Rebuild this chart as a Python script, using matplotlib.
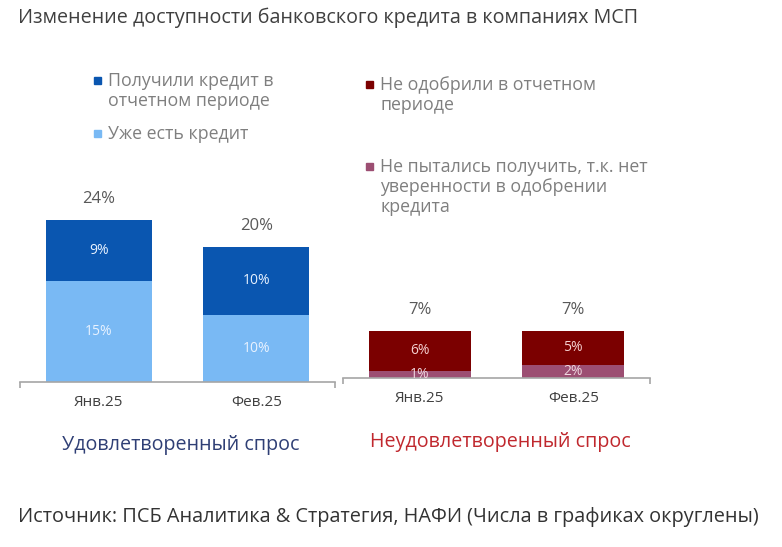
import matplotlib
matplotlib.use("Agg")
import matplotlib.pyplot as plt

plt.rcParams['font.family'] = ['Open Sans', 'DejaVu Sans']

# данные
months = ['Янв.25', 'Фев.25']
got_credit = [9, 10]        # Получили кредит в отчетном периоде
has_credit = [15, 10]       # Уже есть кредит
sat_total = [24, 20]
rejected = [6, 5]           # Не одобрили в отчетном периоде
not_tried = [1, 2]          # Не пытались получить
unsat_total = [7, 7]

c_dark_blue = '#0a56b0'
c_light_blue = '#79b9f4'
c_dark_red = '#7b0000'
c_mauve = '#9c4e72'
grey_txt = '#595959'

W, H = 782, 547
fig = plt.figure(figsize=(W / 100, H / 100), dpi=100)

def px_axes(x0, x1, y_base, ytop_val, scale):
    # оси в пикселях
    h = ytop_val * scale
    return fig.add_axes([x0 / W, 1 - y_base / H, (x1 - x0) / W, h / H])

def style(ax):
    for s in ['top', 'right', 'left']:
        ax.spines[s].set_visible(False)
    ax.spines['bottom'].set_color('#a6a6a6')
    ax.spines['bottom'].set_linewidth(1.2)
    ax.set_yticks([])
    ax.set_xlim(-0.5, 1.5)
    ax.set_ylim(0, 30)
    ax.set_xticks(range(len(months)))
    ax.set_xticklabels(months, fontsize=11, color='#404040')
    ax.tick_params(axis='x', which='major', length=0, pad=9)
    ax.set_xticks([-0.5, 1.5], minor=True)
    ax.tick_params(axis='x', which='minor', length=4, color='#a6a6a6', width=1.2)
    ax.patch.set_alpha(0)

x = list(range(len(months)))

# Удовлетворенный спрос
ax1 = px_axes(20, 335, 382, 30, 6.75)
style(ax1)
b1 = ax1.bar(x, has_credit, width=0.673, color=c_light_blue)
b2 = ax1.bar(x, got_credit, bottom=has_credit, width=0.673, color=c_dark_blue)
ax1.bar_label(b1, labels=[f'{v}%' for v in has_credit], label_type='center',
              color='#e8f2ff', fontsize=10)
ax1.bar_label(b2, labels=[f'{v}%' for v in got_credit], label_type='center',
              color='#e8f2ff', fontsize=10)
for i, t in enumerate(sat_total):
    ax1.annotate(f'{t}%', (i, t), xytext=(0, 15), textcoords='offset points',
                 ha='center', va='center', fontsize=12, color=grey_txt)

# Неудовлетворенный спрос
ax2 = px_axes(343, 650, 378, 30, 6.75)
style(ax2)
b3 = ax2.bar(x, not_tried, width=0.667, color=c_mauve)
b4 = ax2.bar(x, rejected, bottom=not_tried, width=0.667, color=c_dark_red)
ax2.bar_label(b3, labels=[f'{v}%' for v in not_tried], label_type='center',
              color='#f0d8e0', fontsize=10)
ax2.bar_label(b4, labels=[f'{v}%' for v in rejected], label_type='center',
              color='#f5d0d0', fontsize=10)
for i, t in enumerate(unsat_total):
    ax2.annotate(f'{t}%', (i, t), xytext=(0, 15), textcoords='offset points',
                 ha='center', va='center', fontsize=12, color=grey_txt)

# легенды
def legend_item(xp, yp, color, text):
    # yp - центр первой строки
    fig.patches.append(plt.Rectangle((xp / W, 1 - (yp + 3.5) / H), 7 / W, 7 / H,
                                     transform=fig.transFigure, color=color))
    fig.text((xp + 14) / W, 1 - (yp - 8) / H, text, ha='left', va='top',
             fontsize=12.8, color='#7f7f7f', linespacing=1.16)

legend_item(94, 80, c_dark_blue, 'Получили кредит в\nотчетном периоде')
legend_item(94, 133, c_light_blue, 'Уже есть кредит')
legend_item(366, 84, c_dark_red, 'Не одобрили в отчетном\nпериоде')
legend_item(366, 166, c_mauve, 'Не пытались получить, т.к. нет\nуверенности в одобрении\nкредита')

fig.text(18 / W, 1 - 18 / H, 'Изменение доступности банковского кредита в компаниях МСП',
         ha='left', va='center', fontsize=14.2, color='#404040')
fig.text(181 / W, 1 - 445 / H, 'Удовлетворенный спрос', ha='center', va='center',
         fontsize=14.2, color='#2f3f75')
fig.text(500 / W, 1 - 442 / H, 'Неудовлетворенный спрос', ha='center', va='center',
         fontsize=14.2, color='#c0282e')
fig.text(18 / W, 1 - 517 / H,
         'Источник: ПСБ Аналитика & Стратегия, НАФИ (Числа в графиках округлены)',
         ha='left', va='center', fontsize=14.3, color='#333333')

fig.savefig('out.png', dpi=100)
